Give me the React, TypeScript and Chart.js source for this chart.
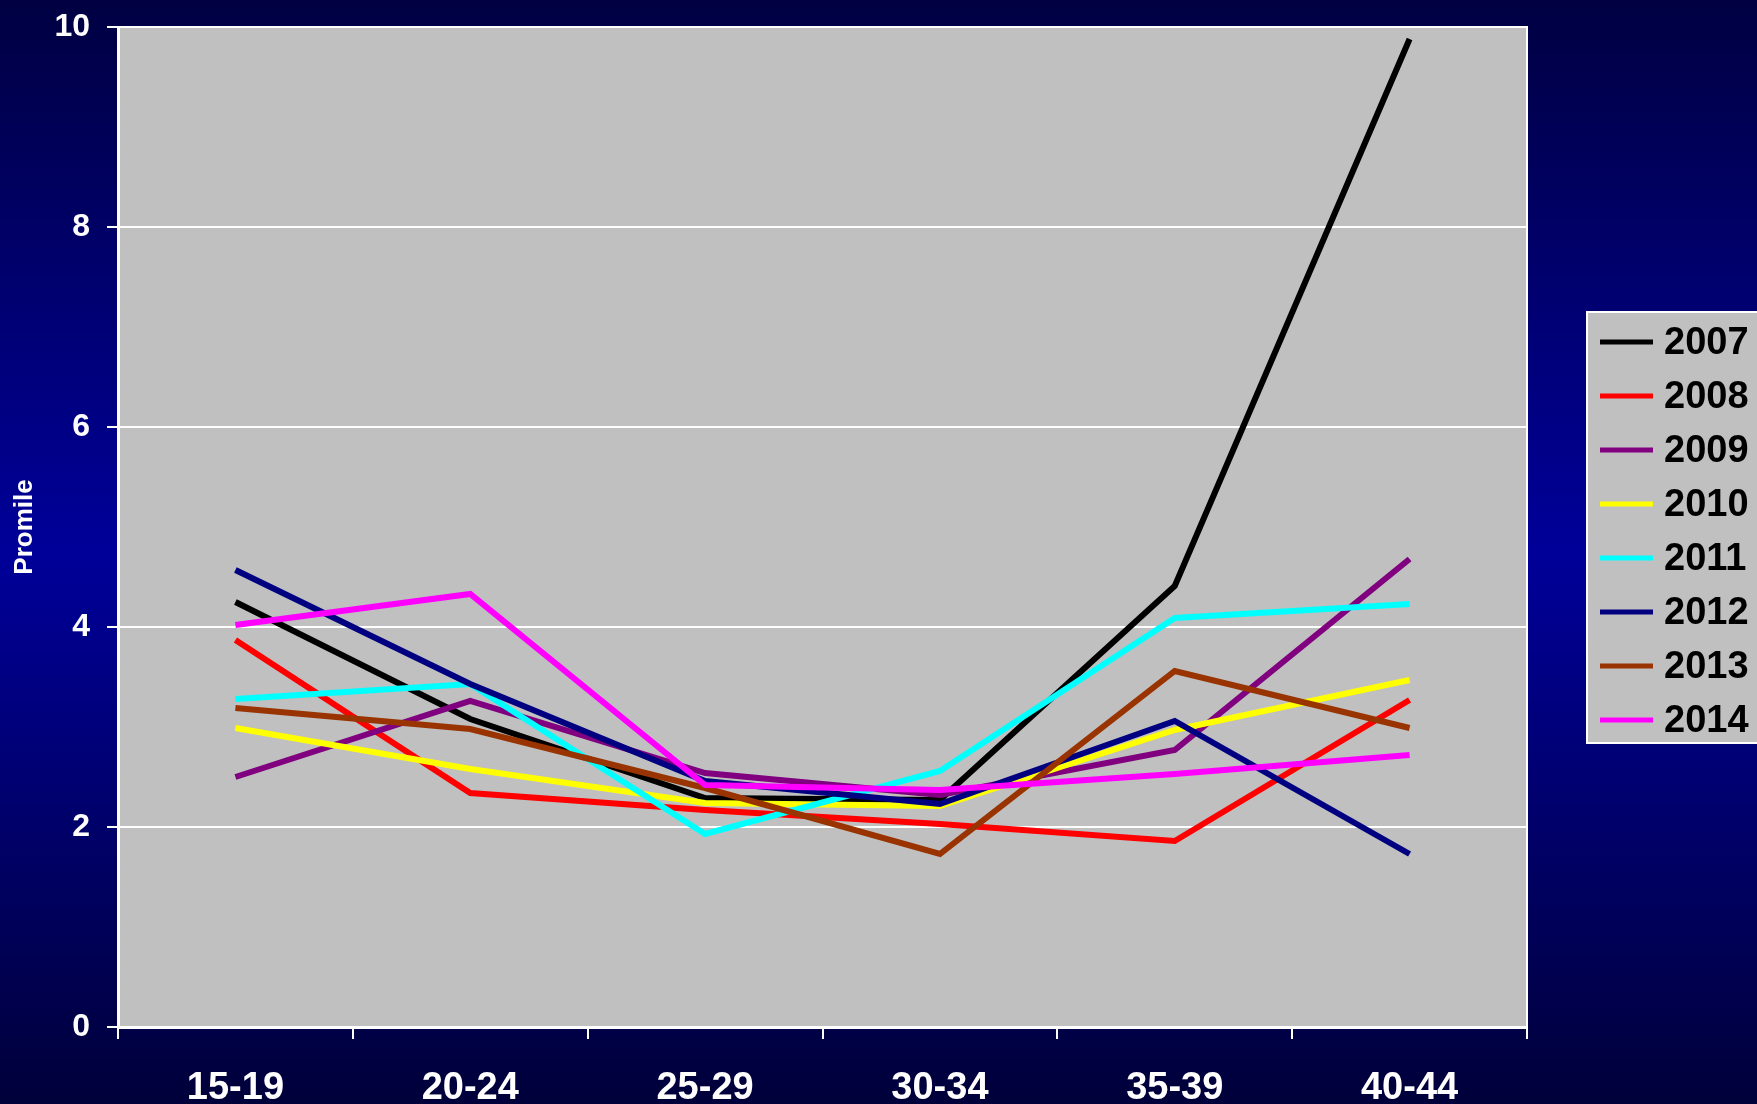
import React, { useEffect, useRef } from "react";
import { Chart, registerables } from "chart.js";

Chart.register(...registerables);

const categories = ["15-19", "20-24", "25-29", "30-34", "35-39", "40-44"];
const seriesLabels = ["2007", "2008", "2009", "2010", "2011", "2012", "2013", "2014"];
const seriesColors = ["#000000", "#FF0000", "#800080", "#FFFF00", "#00FFFF", "#000080", "#993300", "#FF00FF"];

const s2007 = [4.25, 3.08, 2.29, 2.27, 4.41, 9.88];
const s2008 = [3.87, 2.34, 2.17, 2.03, 1.86, 3.27];
const s2009 = [2.5, 3.26, 2.54, 2.32, 2.77, 4.68];
const s2010 = [2.99, 2.58, 2.24, 2.21, 2.97, 3.47];
const s2011 = [3.28, 3.43, 1.93, 2.56, 4.09, 4.23];
const s2012 = [4.57, 3.43, 2.46, 2.23, 3.06, 1.73];
const s2013 = [3.19, 2.98, 2.39, 1.73, 3.56, 2.99];
const s2014 = [4.02, 4.33, 2.42, 2.37, 2.53, 2.72];
const seriesValues = [s2007, s2008, s2009, s2010, s2011, s2012, s2013, s2014];

const yTitle = "Promile";
const yMin = 0;
const yMax = 10;
const yStep = 2;

const FONT = "'Liberation Sans', Arial, sans-serif";

const backgroundPlugin = {
  id: "bgPlugin",
  beforeDraw(chart: any) {
    const { ctx, width, height, chartArea } = chart;
    ctx.save();
    const g = ctx.createLinearGradient(0, 0, 0, height);
    g.addColorStop(0, "#000042");
    g.addColorStop(0.5, "#000099");
    g.addColorStop(1, "#00003a");
    ctx.fillStyle = g;
    ctx.fillRect(0, 0, width, height);
    ctx.fillStyle = "#C0C0C0";
    ctx.fillRect(chartArea.left, chartArea.top, chartArea.right - chartArea.left, chartArea.bottom - chartArea.top);
    ctx.restore();
  },
  beforeDatasetsDraw(chart: any) {
    const { ctx, chartArea } = chart;
    ctx.save();
    ctx.strokeStyle = "#FFFFFF";
    ctx.lineWidth = 2;
    ctx.beginPath();
    ctx.moveTo(chartArea.left, chartArea.top);
    ctx.lineTo(chartArea.right, chartArea.top);
    ctx.lineTo(chartArea.right, chartArea.bottom);
    ctx.stroke();
    ctx.restore();
  },
};

const legendPlugin = {
  id: "sideLegend",
  afterDraw(chart: any) {
    const { ctx } = chart;
    ctx.save();
    const bx = 1587;
    const by = 312;
    const bw = 200;
    const bh = 431;
    ctx.fillStyle = "#C0C0C0";
    ctx.fillRect(bx, by, bw, bh);
    ctx.strokeStyle = "#FFFFFF";
    ctx.lineWidth = 2;
    ctx.strokeRect(bx, by, bw, bh);
    ctx.font = `bold 38px ${FONT}`;
    ctx.textBaseline = "middle";
    ctx.textAlign = "left";
    chart.data.datasets.forEach((ds: any, i: number) => {
      const y = 342 + i * 54;
      ctx.strokeStyle = ds.borderColor;
      ctx.lineWidth = 5;
      ctx.beginPath();
      ctx.moveTo(1600, y);
      ctx.lineTo(1653, y);
      ctx.stroke();
      ctx.fillStyle = "#000000";
      ctx.fillText(ds.label, 1664, y + 2);
    });
    ctx.restore();
  },
};

export default function App() {
  const ref = useRef<HTMLCanvasElement | null>(null);

  useEffect(() => {
    if (!ref.current) return;
    const n = seriesLabels.length;
    const chart = new Chart(ref.current, {
      type: "line",
      data: {
        labels: categories,
        datasets: seriesLabels.map((label, i) => ({
          label,
          data: seriesValues[i],
          borderColor: seriesColors[i],
          backgroundColor: seriesColors[i],
          borderWidth: 6,
          pointRadius: 0,
          pointHoverRadius: 0,
          tension: 0,
          fill: false,
          order: n - i,
        })),
      },
      options: {
        responsive: false,
        animation: false,
        devicePixelRatio: 1,
        layout: { padding: { top: 27, left: 0, right: 230, bottom: 0 } },
        plugins: {
          legend: { display: false },
          tooltip: { enabled: false },
        },
        scales: {
          x: {
            type: "category",
            offset: true,
            grid: {
              display: true,
              drawOnChartArea: false,
              drawTicks: true,
              tickLength: 12,
              color: "#FFFFFF",
              lineWidth: 2,
              offset: true,
            },
            border: { display: true, color: "#FFFFFF", width: 3 },
            ticks: {
              color: "#FFFFFF",
              font: { family: FONT, size: 38, weight: "bold" },
              padding: 27,
              maxRotation: 0,
              autoSkip: false,
            },
            afterFit: (s: any) => {
              s.height = 77;
              s.paddingLeft = 0;
              s.paddingRight = 0;
            },
          },
          y: {
            min: yMin,
            max: yMax,
            grid: {
              color: "#FFFFFF",
              lineWidth: 2,
              tickLength: 11,
              drawTicks: true,
            },
            border: { display: true, color: "#FFFFFF", width: 3 },
            ticks: {
              stepSize: yStep,
              color: "#FFFFFF",
              font: { family: FONT, size: 32, weight: "bold" },
              padding: 17,
            },
            title: {
              display: true,
              text: yTitle,
              color: "#FFFFFF",
              font: { family: FONT, size: 26, weight: "bold" },
              padding: { top: 9, bottom: 0 },
            },
            afterFit: (s: any) => {
              s.width = 118;
              s.paddingTop = 0;
              s.paddingBottom = 0;
            },
          },
        },
      },
      plugins: [backgroundPlugin, legendPlugin],
    } as any);
    return () => chart.destroy();
  }, []);

  return (
    <div style={{ position: "fixed", left: 0, top: 0, width: 1757, height: 1104, overflow: "hidden" }}>
      <canvas ref={ref} width={1757} height={1104} style={{ display: "block" }} />
    </div>
  );
}
